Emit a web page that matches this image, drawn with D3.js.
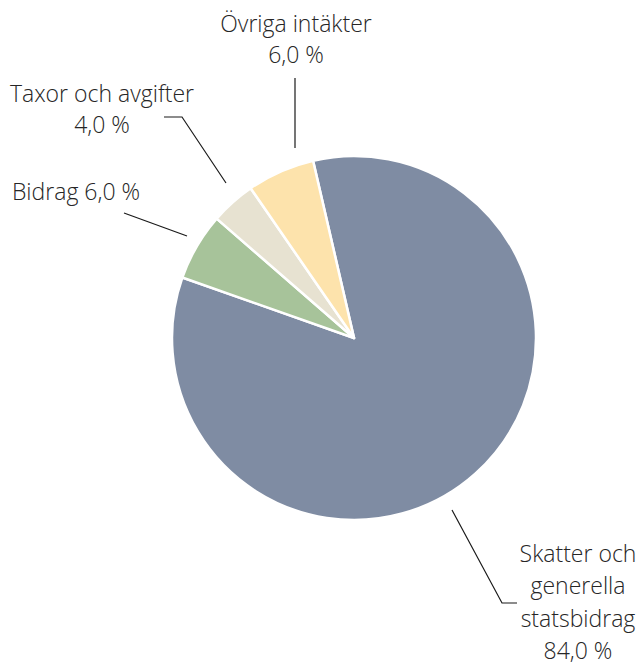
<!DOCTYPE html>
<html>
<head>
<meta charset="utf-8">
<script src="https://cdn.jsdelivr.net/npm/d3@7"></script>
<style>
  html, body { margin: 0; padding: 0; background: #fff; }
  svg { display: block; }
  text { font-family: "Open Sans", sans-serif; font-weight: 300; fill: #262626; }
</style>
</head>
<body>
<svg id="chart" width="640" height="664"></svg>
<script>
// Data
const categories = ["Skatter och generella statsbidrag", "Bidrag", "Taxor och avgifter", "Övriga intäkter"];
const values = [84.0, 6.0, 4.0, 6.0];
const labelLines = [
  ["Skatter och", "generella", "statsbidrag", "84,0 %"],
  ["Bidrag 6,0 %"],
  ["Taxor och avgifter", "4,0 %"],
  ["Övriga intäkter", "6,0 %"]
];
const colors = ["#7f8ca3", "#a7c39a", "#e7e2d1", "#fde3ac"];

// Layout (positions, not data)
const cx = 354, cy = 338, radius = 182;
const startDeg = -13;
const labelLayout = [
  { x: 578, y: 562, dy: 32.3, anchor: "middle", leader: [[452, 510], [502, 603], [517, 603]] },
  { x: 76, y: 200, dy: 33, anchor: "middle", leader: [[124, 213], [187, 236]] },
  { x: 102, y: 102, dy: 31, anchor: "middle", leader: [[164, 117], [182, 117], [226, 183]] },
  { x: 296, y: 32, dy: 31, anchor: "middle", leader: [[295, 78], [295, 148]] }
];

const svg = d3.select("#chart");
const g = svg.append("g").attr("transform", `translate(${cx},${cy})`);

const pie = d3.pie().sort(null)
  .startAngle(startDeg * Math.PI / 180)
  .endAngle(startDeg * Math.PI / 180 + 2 * Math.PI);
const arc = d3.arc().innerRadius(0).outerRadius(radius);

const color = d3.scaleOrdinal().domain(categories).range(colors);

const arcs = pie(values);

g.selectAll("path.slice")
  .data(arcs)
  .join("path")
  .attr("class", "slice")
  .attr("d", arc)
  .attr("fill", (d, i) => color(categories[i]))
  .attr("stroke", "#fff")
  .attr("stroke-width", 2.5)
  .attr("stroke-linejoin", "round");

const line = d3.line();
svg.selectAll("path.leader")
  .data(labelLayout)
  .join("path")
  .attr("class", "leader")
  .attr("d", d => line(d.leader))
  .attr("fill", "none")
  .attr("stroke", "#1a1a1a")
  .attr("stroke-width", 1.2);

labelLayout.forEach((L, i) => {
  const t = svg.append("text")
    .attr("text-anchor", L.anchor)
    .attr("font-size", 23);
  labelLines[i].forEach((s, j) => {
    t.append("tspan").attr("x", L.x).attr("y", L.y + j * L.dy).text(s);
  });
});
</script>
</body>
</html>
